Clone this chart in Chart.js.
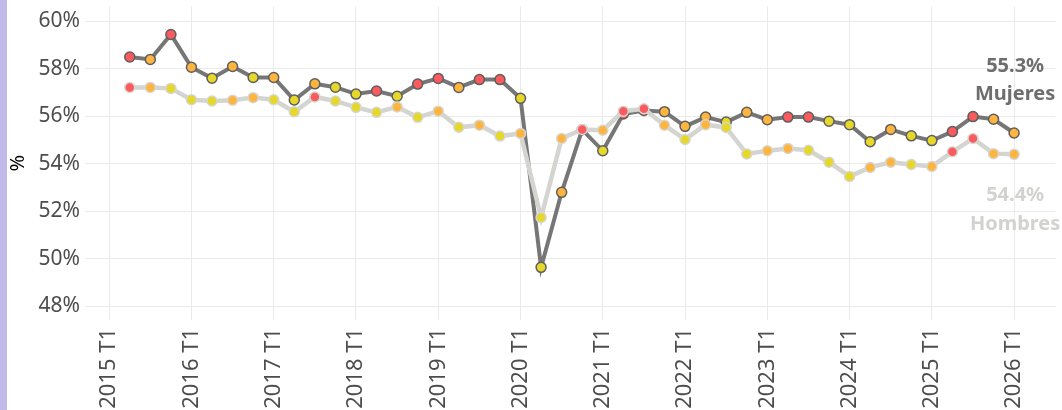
<!DOCTYPE html>
<html>
<head>
<meta charset="utf-8">
<script src="https://cdn.jsdelivr.net/npm/chart.js@4.4.1/dist/chart.umd.min.js"></script>
<style>
  html, body { margin: 0; padding: 0; background: #fff; }
  #wrap { position: relative; width: 1062px; height: 410px; }
  #franja { position: absolute; left: 0; top: 0; width: 7px; height: 410px; background: #c1b9e9; }
</style>
</head>
<body>
<div id="wrap">
  <canvas id="grafico" width="1062" height="410"></canvas>
  <div id="franja"></div>
</div>
<script>
// Trimestres (2015 T2 -> 2026 T1)
const trimestres = [
  '2015 T2','2015 T3','2015 T4',
  '2016 T1','2016 T2','2016 T3','2016 T4',
  '2017 T1','2017 T2','2017 T3','2017 T4',
  '2018 T1','2018 T2','2018 T3','2018 T4',
  '2019 T1','2019 T2','2019 T3','2019 T4',
  '2020 T1','2020 T2','2020 T3','2020 T4',
  '2021 T1','2021 T2','2021 T3','2021 T4',
  '2022 T1','2022 T2','2022 T3','2022 T4',
  '2023 T1','2023 T2','2023 T3','2023 T4',
  '2024 T1','2024 T2','2024 T3','2024 T4',
  '2025 T1','2025 T2','2025 T3','2025 T4',
  '2026 T1'
]

// Valores en %
const mujeres = [
  58.50, 58.40, 59.45,
  58.07, 57.61, 58.10, 57.64,
  57.64, 56.69, 57.37, 57.23,
  56.94, 57.07, 56.85, 57.36,
  57.60, 57.22, 57.55, 57.55,
  56.76, 49.64, 52.80, 55.44,
  54.55, 56.10, 56.25, 56.20,
  55.58, 55.97, 55.76, 56.17,
  55.86, 55.97, 55.97, 55.80,
  55.65, 54.93, 55.45, 55.18,
  54.98, 55.36, 55.99, 55.88,
  55.30
]
const hombres = [
  57.22, 57.22, 57.18,
  56.70, 56.65, 56.68, 56.79,
  56.70, 56.19, 56.82, 56.65,
  56.38, 56.17, 56.40, 55.96,
  56.22, 55.54, 55.63, 55.17,
  55.28, 51.74, 55.07, 55.45,
  55.42, 56.22, 56.32, 55.63,
  55.03, 55.65, 55.53, 54.42,
  54.55, 54.65, 54.57, 54.07,
  53.47, 53.85, 54.07, 53.97,
  53.89, 54.51, 55.07, 54.43,
  54.40
]

// Color de cada punto: R rojo, O naranja, Y amarillo
const colMujeres = [
  'R','O','R',
  'O','Y','O','Y',
  'O','Y','O','Y',
  'Y','R','Y','R',
  'R','O','R','R',
  'Y','Y','O','R',
  'Y','R','R','O',
  'O','O','Y','O',
  'O','R','R','Y',
  'Y','Y','O','Y',
  'Y','R','R','O',
  'O'
]
const colHombres = [
  'R','O','Y',
  'Y','Y','O','O',
  'Y','Y','R','Y',
  'Y','Y','O','Y',
  'O','Y','O','Y',
  'O','Y','O','R',
  'O','R','R','O',
  'Y','O','Y','Y',
  'O','O','Y','Y',
  'Y','O','O','Y',
  'O','R','R','O',
  'O'
]

const anios = [2015, 2016, 2017, 2018, 2019, 2020, 2021, 2022, 2023, 2024, 2025, 2026]
const ticksY = [48, 50, 52, 54, 56, 58, 60]

const PALETA = { R: '#fb5b5f', O: '#fdb540', Y: '#e6d72b' }
const FUENTE = "'Noto Sans', 'DejaVu Sans', sans-serif"

// "2016 T3" -> 2016.5
function posTrimestre(t) {
  const [a, q] = t.split(' T')
  return Number(a) + (Number(q) - 1) / 4
}
const puntos = serie => serie.map((v, i) => ({ x: posTrimestre(trimestres[i]), y: v }))

// Etiquetas al final de cada serie
const etiquetasFinales = {
  id: 'etiquetasFinales',
  afterDatasetsDraw(chart) {
    const { ctx, scales: { x, y } } = chart
    const ultimo = trimestres.length - 1
    const px = x.getPixelForValue(posTrimestre(trimestres[ultimo])) + 1
    const yM = y.getPixelForValue(mujeres[ultimo])
    const yH = y.getPixelForValue(hombres[ultimo])
    ctx.save()
    ctx.font = `bold 20px ${FUENTE}`
    ctx.textAlign = 'center'
    ctx.textBaseline = 'middle'
    ctx.fillStyle = '#6e6e6e'
    ctx.fillText(mujeres[ultimo].toFixed(1) + '%', px, yM - 67)
    ctx.fillText('Mujeres', px, yM - 39)
    ctx.fillStyle = '#d2d2ce'
    ctx.fillText(hombres[ultimo].toFixed(1) + '%', px, yH + 41)
    ctx.fillText('Hombres', px, yH + 70)
    ctx.restore()
  }
}

new Chart(document.getElementById('grafico'), {
  type: 'line',
  data: {
    datasets: [
      {
        label: 'Hombres',
        data: puntos(hombres),
        borderColor: '#d4d4d0',
        borderWidth: 4.5,
        pointRadius: 5,
        pointBorderWidth: 1.5,
        pointBorderColor: '#d6d6d2',
        pointBackgroundColor: colHombres.map(c => PALETA[c]),
        tension: 0
      },
      {
        label: 'Mujeres',
        data: puntos(mujeres),
        borderColor: '#767676',
        borderWidth: 4,
        pointRadius: 5,
        pointBorderWidth: 1.5,
        pointBorderColor: '#5e5e5e',
        pointBackgroundColor: colMujeres.map(c => PALETA[c]),
        tension: 0
      }
    ]
  },
  options: {
    responsive: false,
    animation: false,
    layout: { padding: { top: 3, right: 4, left: 0, bottom: 0 } },
    plugins: {
      legend: { display: false },
      tooltip: { enabled: false }
    },
    scales: {
      x: {
        type: 'linear',
        min: 2014.706,
        max: 2026.503,
        afterBuildTicks: s => { s.ticks = anios.map(v => ({ value: v })) },
        afterFit: s => { s.height = 90; s.paddingLeft = 0; s.paddingRight = 0 },
        border: { display: false },
        grid: { color: '#ebebeb', lineWidth: 1, drawTicks: false },
        ticks: {
          autoSkip: false,
          minRotation: 90,
          maxRotation: 90,
          padding: 8,
          color: '#4d4d4d',
          font: { family: FUENTE, size: 22 },
          callback: v => v + ' T1'
        }
      },
      y: {
        min: 47.42,
        max: 60.63,
        afterBuildTicks: s => { s.ticks = ticksY.map(v => ({ value: v })) },
        afterFit: s => { s.width = 85; s.paddingTop = 0; s.paddingBottom = 0 },
        border: { display: false },
        grid: { color: '#ebebeb', lineWidth: 1, drawTicks: false },
        title: {
          display: true,
          text: '%',
          color: '#000',
          font: { family: FUENTE, size: 20 },
          padding: { top: 6, bottom: 0 }
        },
        ticks: {
          padding: 5,
          color: '#4d4d4d',
          font: { family: FUENTE, size: 21 },
          callback: v => v + '%'
        }
      }
    }
  },
  plugins: [etiquetasFinales]
})
</script>
</body>
</html>
